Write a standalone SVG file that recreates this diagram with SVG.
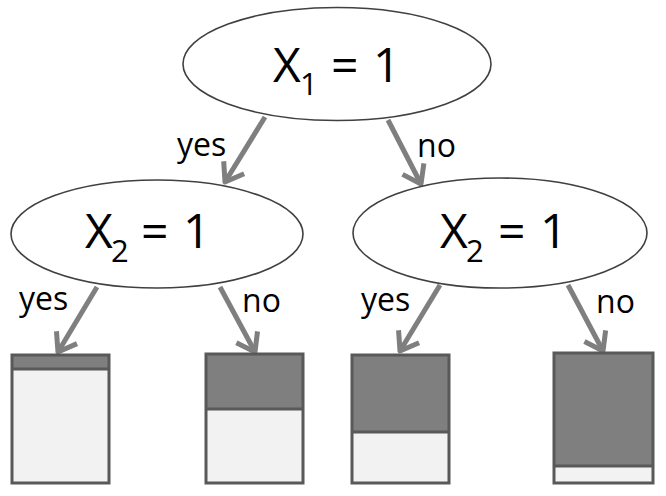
<svg xmlns="http://www.w3.org/2000/svg" width="666" height="496" viewBox="0 0 666 496">
<style>
.node ellipse{fill:#fff;stroke:#404040;stroke-width:1.6}
.big{font-family:"Open Sans","Liberation Sans",sans-serif;font-size:48px;fill:#000}
.sub{font-family:"Open Sans","Liberation Sans",sans-serif;font-size:31px;fill:#000}
.lbl{font-family:"Open Sans","Liberation Sans",sans-serif;font-size:32px;fill:#000}
.edge{stroke:#7f7f7f;stroke-width:5;fill:none;marker-end:url(#ah)}
.light{fill:#f2f2f2}
.dark{fill:#7f7f7f}
.frame{fill:none;stroke:#595959;stroke-width:3}
.div{stroke:#595959;stroke-width:3}
</style>
<defs>
<marker id="ah" markerUnits="userSpaceOnUse" markerWidth="40" markerHeight="40" refX="0" refY="0" viewBox="-20 -20 40 40" orient="auto" overflow="visible">
<path d="M-17,-12 L0,0 L-17,12" fill="none" stroke="#7f7f7f" stroke-width="5" stroke-linejoin="round" stroke-linecap="butt"/>
</marker>
</defs>
<g id="connectors">
<line class="edge" x1="265" y1="117" x2="225" y2="182"/>
<line class="edge" x1="388" y1="120" x2="421" y2="184"/>
<line class="edge" x1="97" y1="287" x2="58" y2="352"/>
<line class="edge" x1="220" y1="287" x2="255" y2="352"/>
<line class="edge" x1="440" y1="285" x2="400" y2="351"/>
<line class="edge" x1="568" y1="285" x2="603" y2="351"/>
<text class="lbl" x="177" y="156">yes</text>
<text class="lbl" x="417" y="157">no</text>
<text class="lbl" x="19" y="310">yes</text>
<text class="lbl" x="242" y="312">no</text>
<text class="lbl" x="361" y="311">yes</text>
<text class="lbl" x="596" y="313">no</text>
</g>
<g id="root" class="node">
<ellipse cx="337" cy="64" rx="154" ry="56.5"/>
<text class="big" y="82"><tspan x="273">X</tspan><tspan class="sub" x="300" y="95">1</tspan><tspan x="331" y="82">=</tspan><tspan x="373">1</tspan></text>
</g>
<g id="left" class="node">
<ellipse cx="157" cy="234" rx="146" ry="54"/>
<text class="big" y="248"><tspan x="85">X</tspan><tspan class="sub" x="111" y="262">2</tspan><tspan x="141" y="248">=</tspan><tspan x="183">1</tspan></text>
</g>
<g id="right" class="node">
<ellipse cx="500" cy="233" rx="147" ry="55"/>
<text class="big" y="248"><tspan x="440">X</tspan><tspan class="sub" x="466" y="262">2</tspan><tspan x="498" y="248">=</tspan><tspan x="540">1</tspan></text>
</g>
<g id="leaf1">
<rect class="light" x="12" y="355" width="97" height="128"/>
<rect class="dark" x="12" y="355" width="97" height="14"/>
<line class="div" x1="12" y1="369" x2="109" y2="369"/>
<rect class="frame" x="12" y="355" width="97" height="128"/>
</g>
<g id="leaf2">
<rect class="light" x="206" y="354" width="97" height="129"/>
<rect class="dark" x="206" y="354" width="97" height="55"/>
<line class="div" x1="206" y1="409" x2="303" y2="409"/>
<rect class="frame" x="206" y="354" width="97" height="129"/>
</g>
<g id="leaf3">
<rect class="light" x="352" y="355" width="97" height="128"/>
<rect class="dark" x="352" y="355" width="97" height="77"/>
<line class="div" x1="352" y1="432" x2="449" y2="432"/>
<rect class="frame" x="352" y="355" width="97" height="128"/>
</g>
<g id="leaf4">
<rect class="light" x="554" y="353" width="99" height="130"/>
<rect class="dark" x="554" y="353" width="99" height="113"/>
<line class="div" x1="554" y1="466" x2="653" y2="466"/>
<rect class="frame" x="554" y="353" width="99" height="130"/>
</g>
</svg>
